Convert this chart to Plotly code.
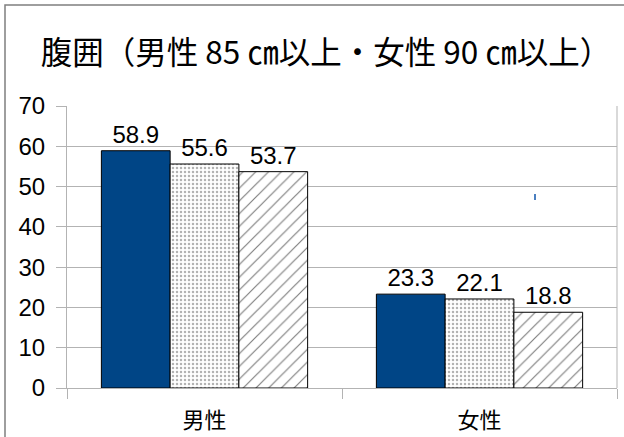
import plotly.graph_objects as go

# Waist circumference (share above threshold), by sex, three series
categories = ["男性", "女性"]
series_a = [58.9, 23.3]
series_b = [55.6, 22.1]
series_c = [53.7, 18.8]
y_ticks = [0, 10, 20, 30, 40, 50, 60, 70]

title_text = "腹囲（男性 85 ㎝以上・女性 90 ㎝以上）"

label_font = dict(family="Liberation Sans, Arial, sans-serif", size=24, color="black")

fig = go.Figure()

fig.add_trace(go.Bar(
    x=categories, y=series_a, name="系列1",
    marker=dict(color="#004586", line=dict(color="black", width=1)),
    text=[f"{v:.1f}" for v in series_a], textposition="outside",
    textfont=label_font, cliponaxis=False,
))
fig.add_trace(go.Bar(
    x=categories, y=series_b, name="系列2",
    marker=dict(color="white", line=dict(color="black", width=1),
                pattern=dict(shape=".", size=4, solidity=0.3,
                             fgcolor="#666666", bgcolor="white", fillmode="overlay")),
    text=[f"{v:.1f}" for v in series_b], textposition="outside",
    textfont=label_font, cliponaxis=False,
))
fig.add_trace(go.Bar(
    x=categories, y=series_c, name="系列3",
    marker=dict(color="white", line=dict(color="black", width=1),
                pattern=dict(shape="/", size=9, solidity=0.13,
                             fgcolor="black", bgcolor="white", fillmode="overlay")),
    text=[f"{v:.1f}" for v in series_c], textposition="outside",
    textfont=label_font, cliponaxis=False,
))

fig.update_layout(
    width=624, height=437,
    margin=dict(l=67, r=7, t=106, b=49),
    paper_bgcolor="white", plot_bgcolor="white",
    barmode="group", bargap=0.25, bargroupgap=0,
    showlegend=False,
    title=dict(text=title_text, x=(326 - 67) / 550, xref="paper", xanchor="center",
               y=(437 - 53) / 437, yanchor="middle", automargin=False,
               font=dict(family="Noto Sans CJK JP", size=31.5, color="black")),
    uniformtext=dict(mode=False),
)

fig.update_yaxes(
    range=[0, 70], tickvals=y_ticks, automargin=False,
    showgrid=True, gridcolor="#b3b3b3", gridwidth=1,
    ticks="outside", ticklen=10, tickcolor="#b3b3b3",
    showline=True, linecolor="#b3b3b3", linewidth=1,
    tickfont=label_font, zeroline=False,
    ticklabelstandoff=6,
)
fig.update_xaxes(
    showgrid=False, automargin=False,
    ticks="outside", tickson="boundaries", ticklen=10, tickcolor="#b3b3b3",
    showline=True, linecolor="#b3b3b3", linewidth=1,
    tickfont=dict(family="Noto Sans CJK JP", size=22, color="black"),
    ticklabelstandoff=13,
)

# right border of the plot area
fig.add_shape(type="line", xref="paper", yref="paper", x0=1, x1=1, y0=0, y1=1,
              line=dict(color="#b3b3b3", width=1))

# outer chart frame (runs off the right and bottom edges)
fig.add_shape(type="rect", xref="paper", yref="paper",
              x0=(5 - 67) / 550, x1=(640 - 67) / 550,
              y0=(388 - 460) / 282, y1=(388 - 5) / 282,
              line=dict(color="#7f7f7f", width=1.5), layer="below")

# small stray blue tick inside the plot
fig.add_shape(type="rect", xref="paper", yref="paper",
              x0=(534 - 67) / 550, x1=(536 - 67) / 550,
              y0=(388 - 200) / 282, y1=(388 - 194) / 282,
              line=dict(width=0), fillcolor="#4a7fc0")

fig.write_html("out.html")
